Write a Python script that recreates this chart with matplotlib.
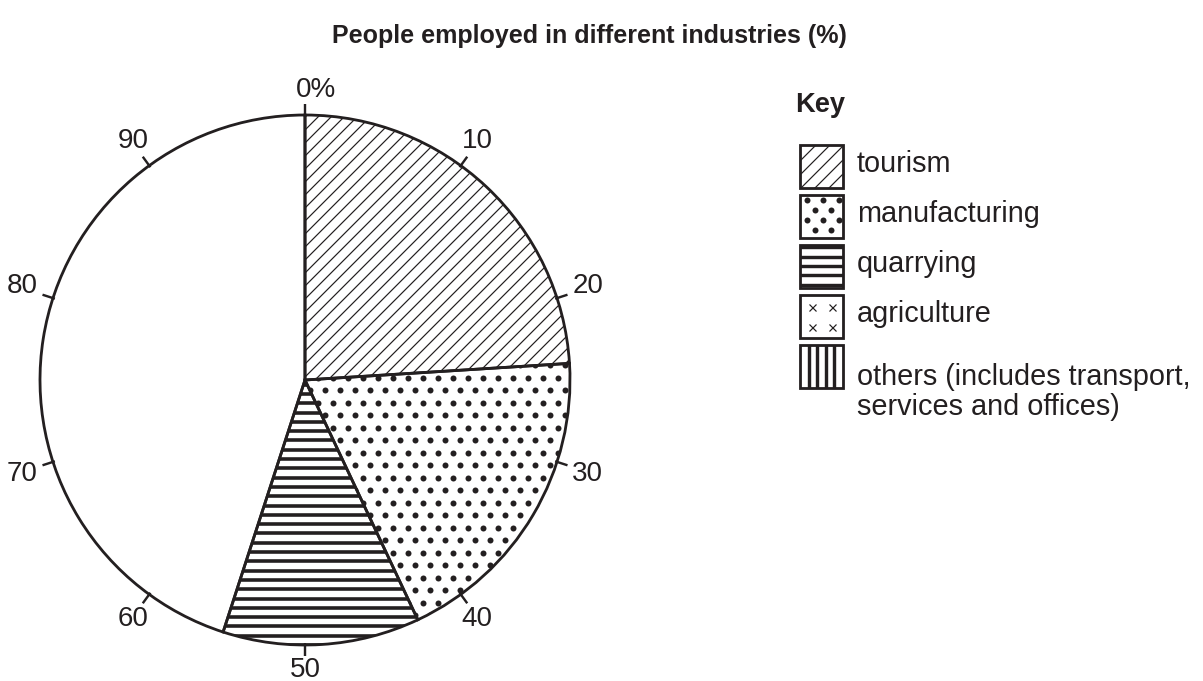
import numpy as np
import matplotlib.pyplot as plt
from matplotlib.patches import Rectangle
from matplotlib.collections import LineCollection

plt.rcParams['font.family'] = ['Liberation Sans', 'DejaVu Sans']

# share of people employed (%), clockwise from the top; last slice left blank
industries = ['tourism', 'manufacturing', 'quarrying', 'blank']
shares = [24, 19, 12, 45]
tick_labels = ['0%', '10', '20', '30', '40', '50', '60', '70', '80', '90']
key_labels = ['tourism', 'manufacturing', 'quarrying', 'agriculture']
key_others = ['others (includes transport,', 'services and offices)']

W, H, DPI = 1203, 681, 80
INK = '#231f20'
PX = 72.0 / DPI   # points per pixel

fig = plt.figure(figsize=(W / DPI, H / DPI), dpi=DPI)
ax = fig.add_axes([0, 0, 1, 1])


def Y(y):  # pixel row -> data y
    return H - y


def add_lines(clip, segs, lw):
    lc = LineCollection(segs, colors=INK, linewidths=lw * PX)
    ax.add_collection(lc, autolim=False)
    lc.set_clip_path(clip)


def diag(clip, x0, x1, y0, y1, step, lw):
    add_lines(clip, [[(x0, x0 + c), (x1, x1 + c)]
                     for c in np.arange(y0 - x1, y1 - x0, step)], lw)


def hlines(clip, x0, x1, y0, y1, step, lw):
    add_lines(clip, [[(x0, y), (x1, y)] for y in np.arange(y0, y1, step)], lw)


def vlines(clip, x0, x1, y0, y1, step, lw):
    add_lines(clip, [[(x, y0), (x, y1)] for x in np.arange(x0, x1, step)], lw)


def dots(clip, x0, x1, y0, y1, dx, dy, d):
    xs, ys = [], []
    for i, y in enumerate(np.arange(y1, y0, -dy)):
        for x in np.arange(x0 + (i % 2) * dx / 2, x1, dx):
            xs.append(x)
            ys.append(y)
    ln, = ax.plot(xs, ys, 'o', ms=d * PX, color=INK, mew=0)
    ln.set_clip_path(clip)


# pie
cx, cy, R = 305, Y(380), 265
wedges, _ = ax.pie(shares, startangle=90, counterclock=False, center=(cx, cy),
                   radius=R, colors=['white'] * len(shares), frame=True,
                   wedgeprops=dict(edgecolor=INK, linewidth=2.8 * PX))
for w in wedges:
    w.set_zorder(3)
    w.set_facecolor('none')

box = (cx - R, cx + R, cy - R, cy + R)
diag(wedges[0], *box, 13, 1.2)
dots(wedges[1], *box, 15, 12.5, 6)
hlines(wedges[2], *box, 9.3, 3.6)

# percentage ticks round the edge
for i, lab in enumerate(tick_labels):
    a = 2 * np.pi * i / len(tick_labels)
    s, c = np.sin(a), np.cos(a)
    ax.plot([cx + (R - 2) * s, cx + (R + 11) * s], [cy + (R - 2) * c, cy + (R + 11) * c],
            color=INK, lw=2.4 * PX, solid_capstyle='butt')
    tx = cx + (290 + 8 * s * s) * s
    ty = cy + (290 + 17 * s * s) * c
    if i == 0:
        ax.text(cx - 9, ty, lab, ha='left', va='center', fontsize=25, color=INK)
    else:
        ax.text(tx, ty, lab, ha='center', va='center', fontsize=25, color=INK)

ax.text(589, Y(36), 'People employed in different industries (%)', ha='center',
        va='center', fontsize=22.5, fontweight='bold', color=INK)

# key
ax.text(795, Y(112), 'Key', ha='left', va='baseline', fontsize=24.5,
        fontweight='bold', color=INK)
bx, bs = 800, 43
tops = [145, 195, 245, 295, 345]
clips, frames = [], []
for top in tops:
    clip = Rectangle((bx, Y(top + bs)), bs, bs, facecolor='none', edgecolor='none')
    ax.add_patch(clip)
    clips.append(clip)
    frames.append(Rectangle((bx, Y(top + bs)), bs, bs, facecolor='none',
                            edgecolor=INK, lw=2.8 * PX, zorder=3))

diag(clips[0], bx, bx + bs, Y(145 + bs), Y(145), 14, 1.2)
dots(clips[1], bx + 7, bx + bs, Y(195 + bs), Y(195) - 5, 16, 10, 6)
hlines(clips[2], bx, bx + bs, Y(245 + bs) + 3.5, Y(245), 9.3, 3.4)
for ox in (12, 32):
    for oy in (12, 32):
        ax.plot(bx + ox, Y(295 + oy), 'x', ms=7 * PX, mew=1.2 * PX, color=INK)
vlines(clips[4], bx + 8.6, bx + bs, Y(345 + bs), Y(345), 8.6, 3.4)
for f in frames:
    ax.add_patch(f)

for lab, base in zip(key_labels, [172, 222, 272, 322]):
    ax.text(857, Y(base), lab, ha='left', va='baseline', fontsize=26, color=INK)
for lab, base in zip(key_others, [385, 415]):
    ax.text(857, Y(base), lab, ha='left', va='baseline', fontsize=26, color=INK)

ax.set_xlim(0, W)
ax.set_ylim(0, H)
ax.axis('off')
fig.savefig('out.png', dpi=DPI, facecolor='white')
